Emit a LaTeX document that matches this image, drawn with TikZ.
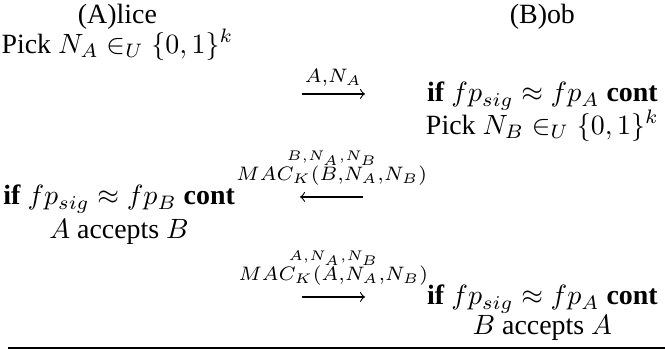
\documentclass[tikz,border=0pt]{standalone}
\usepackage[no-math]{fontspec}
\setmainfont{Liberation Serif}
\usepackage{amsmath,amssymb}
\usepackage{tikz}

\begin{document}
\begin{tikzpicture}[
	% Style for the party names and the steps they carry out
	party/.style={
		anchor=base,
		inner sep=0pt
	},
	% Style for the messages sent between the parties
	msg/.style={
		draw=black,
		->,
		thin
	},
	% Style for the text on the messages
	payload/.style={
		inner sep=2.5pt
	},
	% Style for the small tag above a message text
	tag/.style={
		anchor=base,
		inner sep=0pt
	}
	]
	
	\useasboundingbox (0,0) rectangle (8.38,-4.42);
	
	% 1. The two parties
	\node[party] (alice) at (1.48, -0.29) {(A)lice};
	\node[party] (bob) at (6.835, -0.29) {(B)ob};
	
	% 2. Steps of Alice (left column)
	\node[party] (pickA) at (1.48, -0.668) {Pick $N_A \in_U \{0,1\}^k$};
	\node[party] (checkB) at (1.50, -2.583) {\textbf{if} $fp_{sig} \approx fp_B$ \textbf{cont}};
	\node[party] (acceptB) at (1.50, -3.0) {$A$ accepts $B$};
	
	% 3. Steps of Bob (right column)
	\node[party] (checkA1) at (6.835, -1.285) {\textbf{if} $fp_{sig} \approx fp_A$ \textbf{cont}};
	\node[party] (pickB) at (6.835, -1.69) {Pick $N_B \in_U \{0,1\}^k$};
	\node[party] (checkA2) at (6.835, -3.843) {\textbf{if} $fp_{sig} \approx fp_A$ \textbf{cont}};
	\node[party] (acceptA) at (6.835, -4.22) {$B$ accepts $A$};
	
	% 4. End points of the messages
	\coordinate (m1s) at (3.80, -1.184);
	\coordinate (m1e) at (4.60, -1.184);
	\coordinate (m2s) at (4.58, -2.482);
	\coordinate (m2e) at (3.78, -2.482);
	\coordinate (m3s) at (3.80, -3.742);
	\coordinate (m3e) at (4.60, -3.742);
	
	% 5. Messages and their texts
	% Alice to Bob
	\draw[msg] (m1s) -- node[payload, above] (p1) {$\scriptstyle A,N_A$} (m1e);
	
	% Bob to Alice
	\draw[msg] (m2s) -- node[payload, above=1.5pt] (p2) {$\scriptstyle MAC_K(B,N_A,N_B)$} (m2e);
	\node[tag] (t2) at ([yshift=-0.8pt]p2.north) {$\scriptscriptstyle B,N_A,N_B$};
	
	% Alice to Bob
	\draw[msg] (m3s) -- node[payload, above=1.5pt] (p3) {$\scriptstyle MAC_K(A,N_A,N_B)$} (m3e);
	\node[tag] (t3) at ([yshift=-0.8pt]p3.north) {$\scriptscriptstyle A,N_A,N_B$};
	
	% 6. Closing rule
	\coordinate (ruleL) at (0.10, -4.385);
	\coordinate (ruleR) at (8.38, -4.385);
	\draw (ruleL) -- (ruleR);
	
\end{tikzpicture}
\end{document}
